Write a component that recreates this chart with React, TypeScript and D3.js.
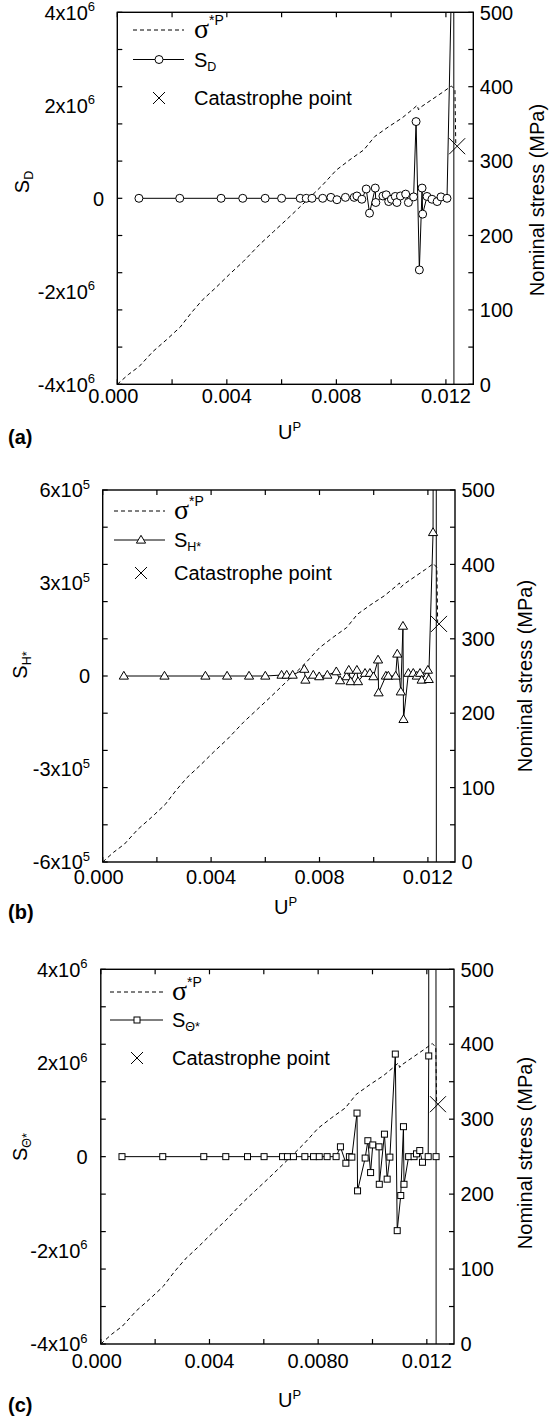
import React from 'react';
import * as d3 from 'd3';

// ---------- data ----------
const uMajor = [0, 0.004, 0.008, 0.012];
const uMinor = [0.002, 0.006, 0.01];
const uLabelsAB = ['0.000', '0.004', '0.008', '0.012'];
const uLabelsC = ['0.000', '0.004', '0.0080', '0.012'];
const stressTicks = [0, 100, 200, 300, 400, 500];

// nominal stress sigma*P (MPa) vs U^P
const sigmaU = [0, 0.0004, 0.0008, 0.0013, 0.0018, 0.0023, 0.0027, 0.0031, 0.0036, 0.0041, 0.0046, 0.0052, 0.0057, 0.0062, 0.0066, 0.007, 0.0075, 0.008, 0.0085, 0.009, 0.0094, 0.0099, 0.0104, 0.0108, 0.01095, 0.011, 0.0111, 0.0115, 0.0119, 0.0122, 0.01233, 0.01236];
const sigmaMPa = [0, 13, 24, 44, 60, 77, 96, 113, 130, 148, 165, 188, 205, 222, 236, 250, 268, 288, 302, 315, 333, 346, 358, 370, 375, 369, 373, 383, 393, 401, 396, 322];
const catastropheU = 0.01241;
const catastropheMPa = 320;

// (a) S_D, in units of 10^6
const uA = [0.00079, 0.00228, 0.00379, 0.00458, 0.0054, 0.006, 0.00668, 0.0069, 0.00711, 0.0075, 0.0078, 0.00802, 0.00833, 0.00865, 0.00875, 0.00893, 0.00909, 0.00921, 0.00942, 0.00944, 0.0097, 0.00982, 0.00991, 0.01001, 0.01015, 0.01021, 0.01034, 0.01053, 0.01063, 0.01082, 0.01091, 0.01103, 0.01113, 0.01115, 0.01131, 0.01149, 0.01168, 0.01182, 0.01204, 0.0122, 0.01226, 0.01232];
const sD = [0, 0, 0, 0, 0, 0, 0, 0, 0, 0, 0.02, -0.03, 0.02, 0.02, 0.05, -0.02, 0.2, -0.32, 0.22, -0.09, 0.05, 0.075, -0.07, -0.02, 0.04, -0.09, 0.05, 0.09, -0.09, 0.03, 1.65, -1.54, 0.22, -0.34, 0.04, -0.02, -0.07, 0.03, 0, 4.5, 50, -50];

// (b) S_H*, in units of 10^5
const uB = [0.00078, 0.00228, 0.00379, 0.00459, 0.0054, 0.006, 0.0066, 0.00679, 0.00701, 0.00744, 0.00748, 0.00777, 0.00799, 0.00829, 0.00862, 0.00876, 0.009, 0.00908, 0.00915, 0.00938, 0.00942, 0.00968, 0.00986, 0.00999, 0.01016, 0.01018, 0.01045, 0.01054, 0.01081, 0.01087, 0.011, 0.01108, 0.0111, 0.01128, 0.01146, 0.01159, 0.01171, 0.01177, 0.012, 0.01203, 0.01219, 0.0123, 0.01232];
const sH = [0, 0, 0, 0, 0, 0, 0.03, 0.03, 0.03, 0.22, -0.13, 0.03, -0.02, 0.03, 0.14, -0.15, -0.02, 0.19, -0.18, 0.19, -0.18, 0.09, 0.09, -0.02, 0.52, -0.54, 0, 0, 0, 0.71, -0.51, 1.61, -1.4, 0.09, 0.09, 0, 0.09, -0.13, 0.19, -0.11, 4.63, 60, -60];

// (c) S_Theta*, in units of 10^6
const uC = [0.00078, 0.00228, 0.00379, 0.0046, 0.0054, 0.00601, 0.00669, 0.00687, 0.00709, 0.00751, 0.00783, 0.00804, 0.00833, 0.00866, 0.00882, 0.00902, 0.00915, 0.00924, 0.00943, 0.00945, 0.00973, 0.00983, 0.00993, 0.01001, 0.01024, 0.01025, 0.01044, 0.01054, 0.01064, 0.01084, 0.01091, 0.01104, 0.01114, 0.01116, 0.01133, 0.01153, 0.01162, 0.01174, 0.01184, 0.01205, 0.01207, 0.01208, 0.0123, 0.01234, 0.01236];
const sT = [0, 0, 0, 0, 0, 0, 0, 0, 0, 0, 0, 0, 0, 0, 0.21, -0.14, 0, -0.01, 0.93, -0.73, -0.03, 0.34, -0.34, 0.25, 0.21, -0.59, 0.48, -0.48, -0.01, 2.19, -1.58, -0.83, 0.64, -0.59, 0, 0, 0.06, 0.13, -0.12, 0, 2.15, 50, 50, 0, -50];

// ---------- layout ----------
const FONT = "'Liberation Sans', Arial, Helvetica, sans-serif";
const FS = 20;
const BL = 7.2; // baseline offset for vertical centring

type Cfg = {
  id: string; left: number; right: number; top: number; bottom: number;
  yDomain: [number, number]; yLabelVals: number[]; exp: string;
  expLabelEnd: number; zeroLabelEnd: number; xLabelY: number; xLabels: string[];
  yTitleX: number; yTitleY: number; rTitleX: number; rTitleY: number;
  uTitleX: number; uTitleY: number; tag: string; tagY: number;
  legX0: number; legX1: number; legMarkX: number; legTextX: number; legY: number[];
  marker: 'circle' | 'triangle' | 'square'; sub: string;
  u: number[]; s: number[];
};

const panels: Cfg[] = [
  { id: 'a', left: 117.3, right: 473.3, top: 12.3, bottom: 384.3, yDomain: [-4, 4], yLabelVals: [-4, -2, 0, 2, 4], exp: '6',
    expLabelEnd: 95, zeroLabelEnd: 104, xLabelY: 403, xLabels: uLabelsAB,
    yTitleX: 29, yTitleY: 182, rTitleX: 544, rTitleY: 200, uTitleX: 278, uTitleY: 439, tag: '(a)', tagY: 444,
    legX0: 133, legX1: 184, legMarkX: 159, legTextX: 194, legY: [30, 59.5, 98],
    marker: 'circle', sub: 'D', u: uA, s: sD },
  { id: 'b', left: 102.7, right: 455, top: 490, bottom: 862, yDomain: [-6, 6], yLabelVals: [-6, -3, 0, 3, 6], exp: '5',
    expLabelEnd: 90, zeroLabelEnd: 90, xLabelY: 884, xLabels: uLabelsAB,
    yTitleX: 27, yTitleY: 665, rTitleX: 532, rTitleY: 676, uTitleX: 274, uTitleY: 914, tag: '(b)', tagY: 919,
    legX0: 114, legX1: 165, legMarkX: 141, legTextX: 174, legY: [511, 540, 573],
    marker: 'triangle', sub: 'H*', u: uB, s: sH },
  { id: 'c', left: 100.8, right: 454, top: 969.3, bottom: 1344, yDomain: [-4, 4], yLabelVals: [-4, -2, 0, 2, 4], exp: '6',
    expLabelEnd: 87.5, zeroLabelEnd: 87.5, xLabelY: 1368, xLabels: uLabelsC,
    yTitleX: 27, yTitleY: 1147, rTitleX: 532, rTitleY: 1153, uTitleX: 278, uTitleY: 1407, tag: '(c)', tagY: 1412,
    legX0: 110, legX1: 163, legMarkX: 137, legTextX: 172, legY: [992, 1020, 1058],
    marker: 'square', sub: '\u0398*', u: uC, s: sT },
];

function Marker({ kind, x, y }: { kind: string; x: number; y: number }) {
  if (kind === 'circle') return <circle cx={x} cy={y} r={4} fill="white" stroke="black" strokeWidth={1} />;
  if (kind === 'triangle') {
    const w = 4.6, h = 7.8;
    return <path d={`M${x},${y - h * 0.6}L${x + w},${y + h * 0.4}L${x - w},${y + h * 0.4}Z`} fill="white" stroke="black" strokeWidth={1} />;
  }
  return <rect x={x - 3} y={y - 3} width={6} height={6} fill="white" stroke="black" strokeWidth={1} />;
}

function Cross({ x, y, r }: { x: number; y: number; r: number }) {
  return (
    <g stroke="black" strokeWidth={1}>
      <line x1={x - r} y1={y - r} x2={x + r} y2={y + r} />
      <line x1={x - r} y1={y + r} x2={x + r} y2={y - r} />
    </g>
  );
}

function Panel({ c }: { c: Cfg }) {
  const x = d3.scaleLinear().domain([0, 0.013]).range([c.left, c.right]);
  const yL = d3.scaleLinear().domain(c.yDomain).range([c.bottom, c.top]);
  const yR = d3.scaleLinear().domain([0, 500]).range([c.bottom, c.top]);
  const pts: [number, number][] = c.u.map((d, i) => [d, c.s[i]]);
  const sPath = d3.line<[number, number]>().x(d => x(d[0])).y(d => yL(d[1]))(pts) || '';
  const sigPts: [number, number][] = sigmaU.map((d, i) => [d, sigmaMPa[i]]);
  const sigPath = d3.line<[number, number]>().x(d => x(d[0])).y(d => yR(d[1]))(sigPts) || '';
  const leftTicks = d3.range(11).map(i => c.yDomain[0] + (i * (c.yDomain[1] - c.yDomain[0])) / 10);
  const rightTicks = d3.range(0, 501, 50);
  const xTicks = [...uMajor, ...uMinor];
  const TL = 5;
  const clipId = `clip-${c.id}`;
  return (
    <g fontFamily={FONT} fontSize={FS} fill="black">
      <defs>
        <clipPath id={clipId}>
          <rect x={c.left} y={c.top} width={c.right - c.left} height={c.bottom - c.top} />
        </clipPath>
      </defs>
      <g clipPath={`url(#${clipId})`}>
        <path d={sigPath} fill="none" stroke="black" strokeWidth={1} strokeDasharray="4,3" />
        <path d={sPath} fill="none" stroke="black" strokeWidth={1} />
        {pts.map((p, i) => <Marker key={i} kind={c.marker} x={x(p[0])} y={yL(p[1])} />)}
        <Cross x={x(catastropheU)} y={yR(catastropheMPa)} r={8} />
      </g>
      <rect x={c.left} y={c.top} width={c.right - c.left} height={c.bottom - c.top} fill="none" stroke="black" strokeWidth={1.4} />
      <g stroke="black" strokeWidth={1.2}>
        {xTicks.map((t, i) => (
          <g key={i}>
            <line x1={x(t)} x2={x(t)} y1={c.bottom} y2={c.bottom - TL} />
            <line x1={x(t)} x2={x(t)} y1={c.top} y2={c.top + TL} />
          </g>
        ))}
        {leftTicks.map((t, i) => <line key={'l' + i} x1={c.left} x2={c.left + TL} y1={yL(t)} y2={yL(t)} />)}
        {rightTicks.map((t, i) => <line key={'r' + i} x1={c.right} x2={c.right - TL} y1={yR(t)} y2={yR(t)} />)}
      </g>
      {uMajor.map((t, i) => (
        <text key={i} x={x(t) - (i === 0 ? 4 : 0)} y={c.xLabelY} textAnchor="middle">{c.xLabels[i]}</text>
      ))}
      {c.yLabelVals.map((v, i) => v === 0 ? (
        <text key={i} x={c.zeroLabelEnd} y={yL(v) + BL} textAnchor="end">0</text>
      ) : (
        <text key={i} x={c.expLabelEnd} y={yL(v) + BL} textAnchor="end">
          {`${v}x10`}<tspan fontSize={13} dy={-8.5}>{c.exp}</tspan>
        </text>
      ))}
      {stressTicks.map((v, i) => (
        <text key={i} x={c.right + 6.5} y={yR(v) + BL}>{v}</text>
      ))}
      <text transform={`translate(${c.yTitleX},${c.yTitleY}) rotate(-90)`} textAnchor="middle">
        S<tspan fontSize={12.5} dy={4}>{c.sub}</tspan>
      </text>
      <text transform={`translate(${c.rTitleX},${c.rTitleY}) rotate(-90)`} textAnchor="middle">Nominal stress (MPa)</text>
      <text x={c.uTitleX} y={c.uTitleY}>U<tspan fontSize={13} dy={-8.5}>P</tspan></text>
      <text x={8} y={c.tagY} fontWeight="bold">{c.tag}</text>
      <line x1={c.legX0} x2={c.legX1} y1={c.legY[0]} y2={c.legY[0]} stroke="black" strokeWidth={1} strokeDasharray="4,3" />
      <text x={c.legTextX} y={c.legY[0] + 8} fontFamily="'Liberation Serif', 'Times New Roman', serif" fontSize={28}>
        σ<tspan fontFamily={FONT} fontSize={14} dy={-13}>*P</tspan>
      </text>
      <line x1={c.legX0} x2={c.legX1} y1={c.legY[1]} y2={c.legY[1]} stroke="black" strokeWidth={1} />
      <Marker kind={c.marker} x={c.legMarkX} y={c.legY[1]} />
      <text x={c.legTextX} y={c.legY[1] + BL}>S<tspan fontSize={12.5} dy={4}>{c.sub}</tspan></text>
      <Cross x={c.legMarkX} y={c.legY[2]} r={6} />
      <text x={c.legTextX} y={c.legY[2] + BL}>Catastrophe point</text>
    </g>
  );
}

export default function App() {
  return (
    <svg width={549} height={1419} viewBox="0 0 549 1419" style={{ position: 'absolute', left: 0, top: 0, background: 'white' }}>
      <rect width={549} height={1419} fill="white" />
      {panels.map(p => <Panel key={p.id} c={p} />)}
    </svg>
  );
}
